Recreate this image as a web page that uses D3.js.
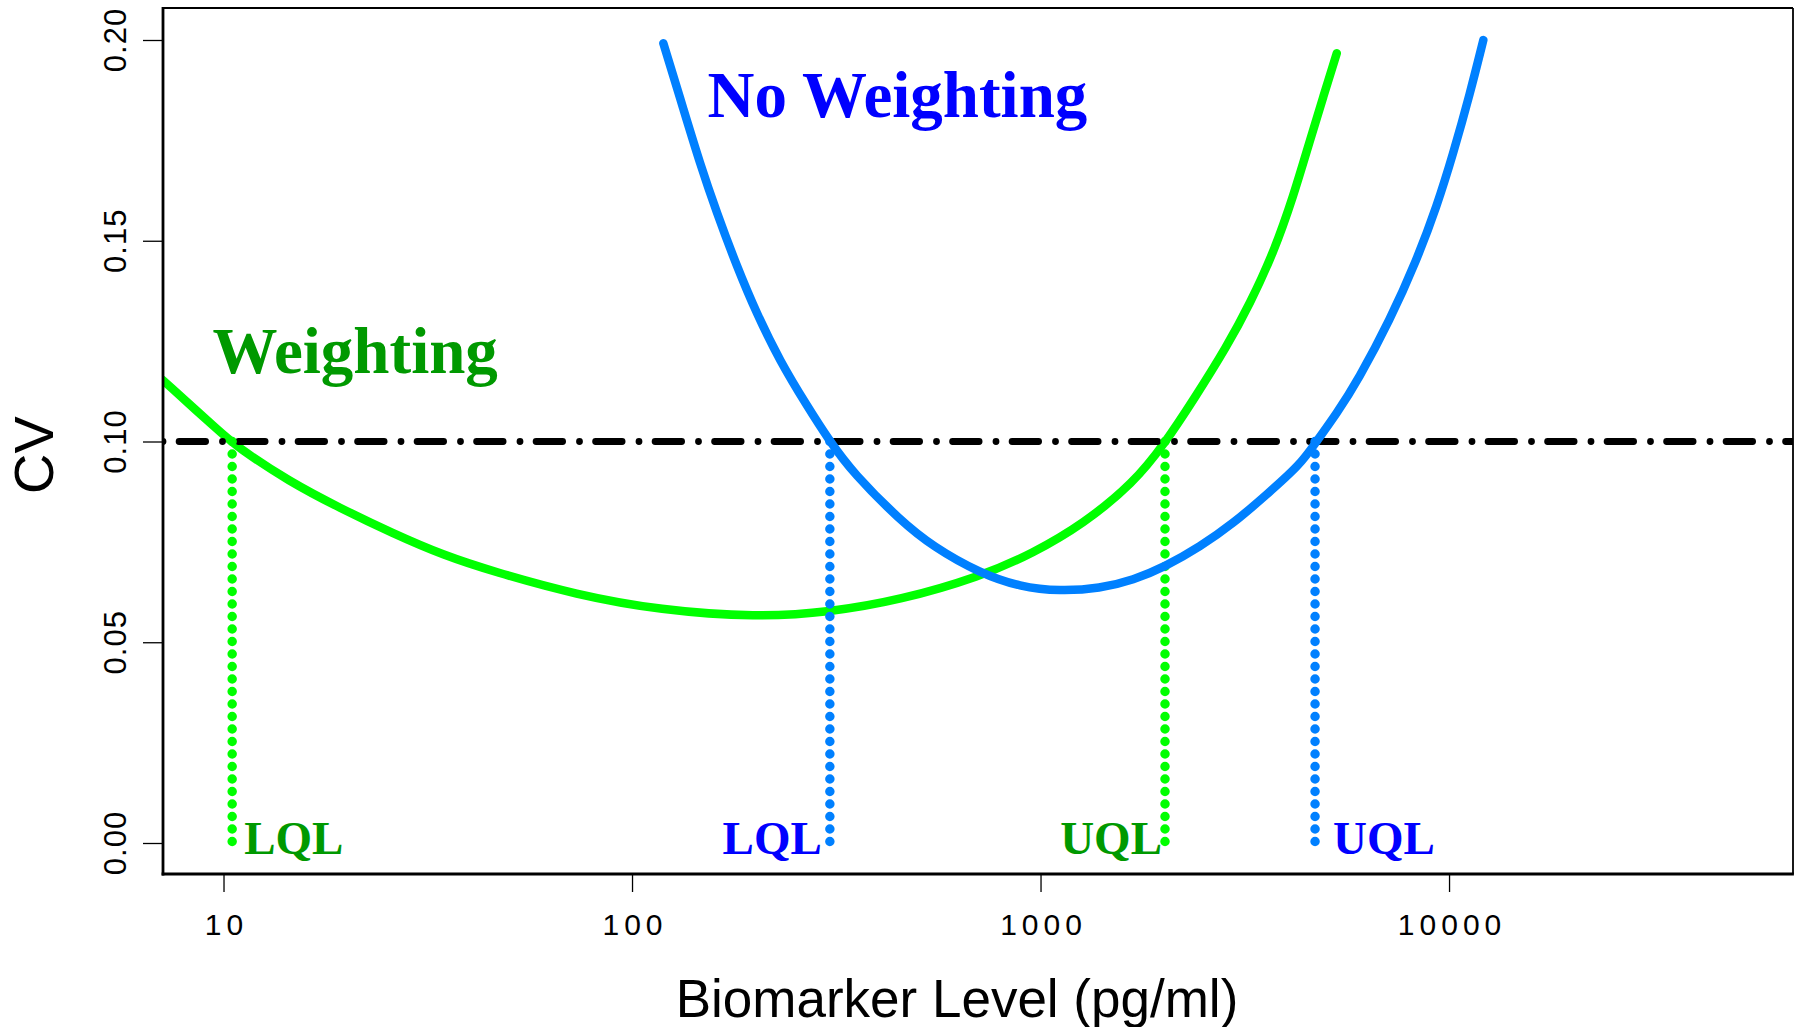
<!DOCTYPE html>
<html>
<head>
<meta charset="utf-8">
<script src="https://cdn.jsdelivr.net/npm/d3@7"></script>
<style>
  html, body { margin: 0; padding: 0; background: #fff; }
  svg { display: block; }
</style>
</head>
<body>
<svg id="chart" width="1801" height="1027"></svg>
<script>
// ---------------- data ----------------
const xTicks = [10, 100, 1000, 10000];
const yTicks = [0.00, 0.05, 0.10, 0.15, 0.20];

// Weighting (green) CV profile
const weightedConc = [7.1, 9.8, 10.77, 14.5, 19.3, 26.0, 34.5, 45.8, 73.2, 117, 202, 305, 453, 711, 960, 1273, 1688, 2017, 2366, 2857, 3258, 3715, 4157, 4568, 4924, 5311];
const weightedCV   = [0.1153, 0.1024, 0.0987, 0.0900, 0.0834, 0.0771, 0.0717, 0.0676, 0.0618, 0.0580, 0.0562, 0.0575, 0.0605, 0.0663, 0.0722, 0.0795, 0.0896, 0.0996, 0.1103, 0.1236, 0.1344, 0.1469, 0.1610, 0.1751, 0.1859, 0.1967];

// No weighting (blue) CV profile
const unweightedConc = [119.3, 133.6, 146.7, 161.2, 180.4, 202, 230.3, 267.7, 305, 348, 453, 546, 711, 891, 1116, 1399, 1688, 2017, 2458, 2965, 3579, 4318, 4699, 5311, 5987, 7172, 8334, 9330, 10245, 11257, 12134];
const unweightedCV   = [0.1992, 0.1828, 0.1692, 0.1570, 0.1437, 0.1318, 0.1200, 0.1090, 0.1000, 0.0921, 0.0804, 0.0738, 0.0672, 0.0638, 0.0627, 0.0634, 0.0655, 0.0688, 0.0738, 0.0796, 0.0868, 0.0942, 0.0995, 0.1070, 0.1153, 0.1303, 0.1452, 0.1585, 0.1718, 0.1867, 0.2000];

const cvThreshold = 0.10;
const weightedLimits   = [10.5, 2017];   // LQL, UQL
const unweightedLimits = [305, 4699];    // LQL, UQL

const xLabel = "Biomarker Level (pg/ml)";
const yLabel = "CV";

// ---------------- layout ----------------
const L = 163, R = 1793, T = 8, B = 874;
const svg = d3.select("#chart");

const x = d3.scaleLog().domain([7.11, 69500]).range([L, R]);
const y = d3.scaleLinear().domain([0, 0.2]).range([843, 40]);

const GREEN = "#00FF00", BLUE = "#0080FF";
const GREEN_TXT = "#009900", BLUE_TXT = "#0000FF";

svg.append("defs").append("clipPath").attr("id", "clip")
  .append("rect").attr("x", L).attr("y", T).attr("width", R - L).attr("height", B - T);

const plot = svg.append("g").attr("clip-path", "url(#clip)");

const line = d3.line().x(d => x(d[0])).y(d => y(d[1])).curve(d3.curveBasis);

plot.append("path")
  .datum(weightedConc.map((c, i) => [c, weightedCV[i]]))
  .attr("d", line).attr("fill", "none").attr("stroke", GREEN)
  .attr("stroke-width", 8.5).attr("stroke-linecap", "round").attr("stroke-linejoin", "round");

svg.append("path")
  .datum(unweightedConc.map((c, i) => [c, unweightedCV[i]]))
  .attr("d", line).attr("fill", "none").attr("stroke", BLUE)
  .attr("stroke-width", 8.5).attr("stroke-linecap", "round").attr("stroke-linejoin", "round");

// threshold dot-dash line
plot.append("line")
  .attr("x1", L).attr("x2", R).attr("y1", y(cvThreshold)).attr("y2", y(cvThreshold))
  .attr("stroke", "#000").attr("stroke-width", 6.8).attr("stroke-linecap", "round")
  .attr("stroke-dasharray", "0,16.1,26.5,16.9");

// vertical dotted limit lines
const limits = [
  {v: weightedLimits[0], c: GREEN}, {v: weightedLimits[1], c: GREEN},
  {v: unweightedLimits[0], c: BLUE}, {v: unweightedLimits[1], c: BLUE}
];
plot.selectAll("line.lim").data(limits).enter().append("line")
  .attr("class", "lim")
  .attr("x1", d => x(d.v)).attr("x2", d => x(d.v))
  .attr("y1", y(cvThreshold)).attr("y2", y(0))
  .attr("stroke", d => d.c).attr("stroke-width", 9.5)
  .attr("stroke-linecap", "round").attr("stroke-dasharray", "0,12.5");

// ---------------- box ----------------
svg.append("line").attr("x1", L).attr("x2", R).attr("y1", T).attr("y2", T).attr("stroke", "#000").attr("stroke-width", 1.8);
svg.append("line").attr("x1", R).attr("x2", R).attr("y1", T).attr("y2", B).attr("stroke", "#000").attr("stroke-width", 1.8);
svg.append("line").attr("x1", L).attr("x2", L).attr("y1", T - 0.9).attr("y2", B + 1.4).attr("stroke", "#000").attr("stroke-width", 2.8);
svg.append("line").attr("x1", L - 1.4).attr("x2", R + 0.9).attr("y1", B).attr("y2", B).attr("stroke", "#000").attr("stroke-width", 2.8);

// ---------------- axes ----------------
const xAxis = svg.append("g").attr("transform", `translate(0,${B})`)
  .call(d3.axisBottom(x).tickValues(xTicks).tickFormat(d3.format("d")).tickSize(18));
xAxis.select(".domain").remove();
xAxis.selectAll(".tick line").attr("stroke-width", 1.3);
xAxis.selectAll(".tick text")
  .attr("y", 61).attr("dy", 0).attr("dx", 2.5)
  .attr("font-family", "'Liberation Sans', Arial, sans-serif")
  .attr("font-size", 30).attr("letter-spacing", 5).attr("fill", "#000");

const yAxis = svg.append("g").attr("transform", `translate(${L},0)`)
  .call(d3.axisLeft(y).tickValues(yTicks).tickFormat(d3.format(".2f")).tickSize(20));
yAxis.select(".domain").remove();
yAxis.selectAll(".tick line").attr("stroke-width", 1.3);
yAxis.selectAll(".tick text")
  .attr("x", 0).attr("y", 0).attr("dy", 0).attr("dx", 0.5)
  .attr("text-anchor", "middle")
  .attr("transform", "translate(-37,0) rotate(-90)")
  .attr("font-family", "'Liberation Sans', Arial, sans-serif")
  .attr("font-size", 31).attr("letter-spacing", 1).attr("fill", "#000");

// axis titles
svg.append("text").attr("x", 957).attr("y", 1017).attr("text-anchor", "middle")
  .attr("font-family", "'Liberation Sans', Arial, sans-serif").attr("font-size", 53)
  .attr("fill", "#000").text(xLabel);
svg.append("text").attr("transform", "translate(53,455) rotate(-90)").attr("text-anchor", "middle")
  .attr("font-family", "'Liberation Sans', Arial, sans-serif").attr("font-size", 56)
  .attr("fill", "#000").text(yLabel);

// ---------------- annotations ----------------
const serif = "'Liberation Serif', 'Times New Roman', serif";
svg.append("text").attr("x", x(153)).attr("y", 117)
  .attr("font-family", serif).attr("font-weight", "bold").attr("font-size", 65)
  .attr("fill", BLUE_TXT).text("No Weighting");
svg.append("text").attr("x", x(9.4)).attr("y", 373)
  .attr("font-family", serif).attr("font-weight", "bold").attr("font-size", 65)
  .attr("fill", GREEN_TXT).text("Weighting");

const limLabels = [
  {v: weightedLimits[0], t: "LQL", c: GREEN_TXT, dx: 12, anchor: "start"},
  {v: unweightedLimits[0], t: "LQL", c: BLUE_TXT, dx: -8, anchor: "end"},
  {v: weightedLimits[1], t: "UQL", c: GREEN_TXT, dx: -3, anchor: "end"},
  {v: unweightedLimits[1], t: "UQL", c: BLUE_TXT, dx: 18, anchor: "start"}
];
svg.selectAll("text.lim").data(limLabels).enter().append("text")
  .attr("class", "lim")
  .attr("x", d => x(d.v) + d.dx).attr("y", 854)
  .attr("text-anchor", d => d.anchor)
  .attr("font-family", serif).attr("font-weight", "bold").attr("font-size", 47)
  .attr("fill", d => d.c).text(d => d.t);
</script>
</body>
</html>
